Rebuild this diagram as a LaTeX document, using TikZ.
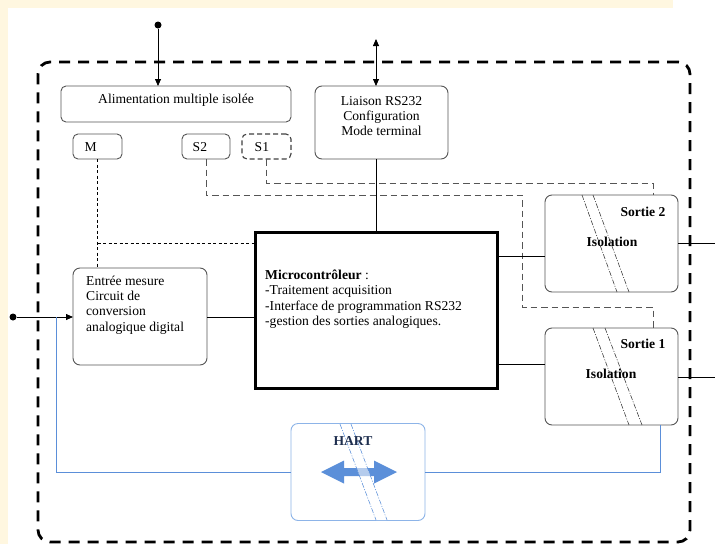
\documentclass[tikz,border=0pt]{standalone}
\usepackage{fontspec}
\setmainfont{Liberation Serif}
\usetikzlibrary{arrows.meta,calc}
\definecolor{cream}{HTML}{FFF7E0}
\definecolor{boxgray}{HTML}{555555}
\definecolor{hblue}{HTML}{5B8FD9}
\definecolor{hboxblue}{HTML}{8DB4E8}
\definecolor{hnavy}{HTML}{1F2F4F}
\tikzset{
  box/.style={draw=boxgray, line width=0.9pt, rounded corners=7pt, inner sep=0pt, outer sep=0pt},
  frame/.style={draw=black, line width=2.8pt, dash pattern=on 11pt off 8pt, rounded corners=12pt, inner sep=0pt, outer sep=0pt},
  txt/.style={inner sep=0pt, font=\fontsize{13.6}{15.4}\selectfont},
  btxt/.style={inner sep=0pt, font=\fontsize{13.6}{15.4}\selectfont\bfseries},
  wire/.style={draw=black, line width=0.8pt},
  finedash/.style={draw=black, line width=0.7pt, dash pattern=on 3pt off 2.5pt},
  meddash/.style={draw=boxgray, line width=0.9pt, dash pattern=on 6.5pt off 4pt},
  isol/.style={draw=black!80, line width=0.55pt, dash pattern=on 5pt off 1.5pt on 1pt off 1.5pt},
  hisol/.style={draw=hblue, line width=0.55pt, dash pattern=on 5pt off 1.5pt on 1pt off 1.5pt},
  bluewire/.style={draw=hblue, line width=0.9pt},
  dotnode/.style={circle, fill=black, inner sep=0pt, minimum size=7pt},
  tip/.style={-{Triangle[length=7pt,width=6pt]}},
  tips/.style={{Triangle[length=7pt,width=6pt]}-{Triangle[length=7pt,width=6pt]}}
}
\begin{document}
\begin{tikzpicture}[x=1pt,y=-1pt]
\useasboundingbox (0,0) rectangle (715,544);
\fill[cream] (0,0) rectangle (715,544);
\fill[white] (8,8) rectangle (715,544);
\fill[white] (673,0) rectangle (715,8);

% outer frame
\node[frame, minimum width=652pt, minimum height=480pt] (frame) at (364,302) {};

% boxes
\node[box, rounded corners=5pt, minimum width=230pt, minimum height=36pt] (alim) at (176,104) {};
\node[box, rounded corners=5pt, minimum width=49pt, minimum height=25pt] (M) at (97.5,146.5) {};
\node[box, rounded corners=5pt, minimum width=48pt, minimum height=25pt] (S2) at (206,146.5) {};
\node[box, rounded corners=5pt, draw=black!75, line width=1.1pt, dash pattern=on 5pt off 3pt, minimum width=49pt, minimum height=25pt] (S1) at (266.5,146.5) {};
\node[box, minimum width=133pt, minimum height=73pt] (liaison) at (381.5,122.5) {};
\node[draw=black, line width=3pt, inner sep=0pt, outer sep=0pt, minimum width=242pt, minimum height=156pt] (micro) at (376,310) {};
\node[box, minimum width=134pt, minimum height=97pt] (entree) at (140,316.5) {};
\node[box, minimum width=133pt, minimum height=97pt] (sortie2) at (611.5,243.5) {};
\node[box, minimum width=133pt, minimum height=97pt] (sortie1) at (611.5,376.5) {};
\node[box, draw=hboxblue, minimum width=134pt, minimum height=97pt] (hart) at (358,472) {};

% texts
\node[txt] (alimtxt) at (176,100) {Alimentation multiple isolée};
\node[txt, anchor=west] (Mtxt) at (84.5,147) {M};
\node[txt, anchor=west] (S2txt) at (192.5,147) {S2};
\node[txt, anchor=west] (S1txt) at (254.5,147) {S1};
\node[txt, align=center] (liaisontxt) at (381.5,116) {Liaison RS232\\Configuration\\Mode terminal};
\node[txt, align=left, anchor=west] (entreetxt) at (86,305) {Entrée mesure\\Circuit de\\conversion\\analogique digital};
\node[txt, align=left, anchor=west] (microtxt) at (265,299) {\textbf{Microcontrôleur} :\\-Traitement acquisition\\-Interface de programmation RS232\\-gestion des sorties analogiques.};

% isolation strips
\draw[isol] (582,195) -- (617,292);
\draw[isol] (593,195) -- (629,292);
\draw[isol] (593,328) -- (629,425);
\draw[isol] (605,328) -- (642,425);

\node[btxt] (s2title) at (643,212) {Sortie 2};
\node[btxt] (s2iso) at (612,242) {Isolation};
\node[btxt] (s1title) at (643,344) {Sortie 1};
\node[btxt] (s1iso) at (611,374) {Isolation};

% HART
\fill[hblue] (321,472) -- (344,460.5) -- (344,468) -- (374,468) -- (374,460.5) -- (397,472) -- (374,483.5) -- (374,476) -- (344,476) -- (344,483.5) -- cycle;
\fill[white, opacity=0.55] (340,424) -- (351,424) -- (387,520) -- (376,520) -- cycle;
\draw[hisol] (340,424) -- (376,520);
\draw[hisol] (351,424) -- (387,520);
\node[btxt, text=hnavy] (harttxt) at (353,441) {HART};

% power input
\node[dotnode] (pwrin) at (158,25) {};
\draw[wire, tip] (pwrin) -- (pwrin |- alim.north);

% RS232 external link
\coordinate (rsext) at (376,39);
\draw[wire, tips] (rsext) -- (rsext |- liaison.north);
\draw[wire] (rsext |- liaison.south) -- (rsext |- micro.north);

% measurement input
\node[dotnode] (mesin) at (13,317) {};
\draw[wire, tip] (mesin) -- (mesin -| entree.west);
\draw[wire] (mesin -| entree.east) -- (mesin -| micro.west);

% M dashed
\coordinate (mj) at (97.5,243);
\draw[finedash] (M.south) -- (M.south |- entree.north);
\draw[finedash] (mj) -- (mj -| micro.west);

% S2 dashed to sortie 1
\coordinate (s2a) at (522,195);
\coordinate (s2k) at (653,307);
\draw[meddash] (S2.south) |- (s2a) |- (s2k) -- (s2k |- sortie1.north);

% S1 dashed to sortie 2
\coordinate (s1k) at (653,183);
\draw[meddash] (S1.south) |- (s1k) -- (s1k |- sortie2.north);

% micro to outputs
\coordinate (m2) at (497,256);
\coordinate (m1) at (497,364);
\draw[wire] (m2 -| micro.east) -- (m2 -| sortie2.west);
\draw[wire] (m1 -| micro.east) -- (m1 -| sortie1.west);

% outputs
\coordinate (out2) at (715,243);
\coordinate (out1) at (715,377);
\draw[wire] (out2 -| sortie2.east) -- (out2);
\draw[wire] (out1 -| sortie1.east) -- (out1);

% HART blue loop
\coordinate (bl) at (56,317);
\coordinate (br) at (660,425);
\draw[bluewire] (bl) |- (hart.west);
\draw[bluewire] (hart.east) -| (br);
\end{tikzpicture}
\end{document}
